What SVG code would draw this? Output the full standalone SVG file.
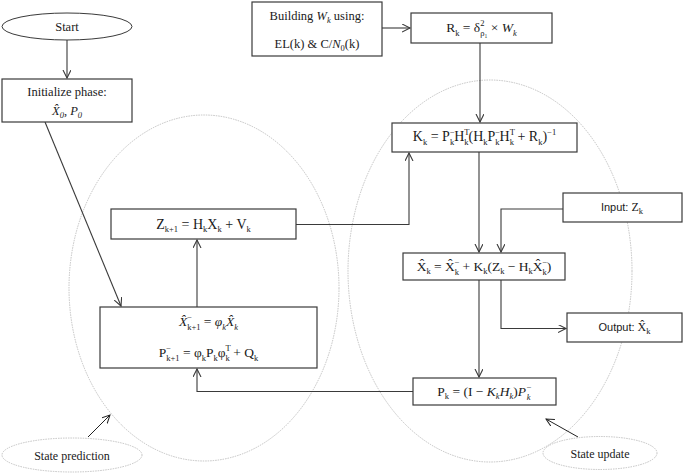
<svg xmlns="http://www.w3.org/2000/svg" width="685" height="473" viewBox="0 0 685 473">
<style>
.bg{fill:#fff}
.box{fill:#fff;stroke:#3a3a3a;stroke-width:1.2}
.big{fill:none;stroke:#b4b4b4;stroke-width:0.8;stroke-dasharray:1.5 1}
.lab{fill:#fff;stroke:#b4b4b4;stroke-width:0.8;stroke-dasharray:1.5 1}
.ln{fill:none;stroke:#3a3a3a;stroke-width:1.1}
.pt{fill:none;stroke:#222;stroke-width:1}
text{font-family:"Liberation Serif","Times New Roman",serif;font-size:13.5px;fill:#1a1a1a;text-anchor:middle}
.t13{font-size:12.5px}
.lbl{font-size:12px}
.m14{font-size:14px}
.sans{font-family:"Liberation Sans",Arial,sans-serif;font-size:11px}
.s{font-size:8.5px}
.i{font-style:italic}
</style>
<defs>
<marker id="ah" markerWidth="10" markerHeight="10" refX="8" refY="4" orient="auto" markerUnits="userSpaceOnUse">
<path d="M0,0 L8,4 L0,8" fill="none" stroke="#3a3a3a" stroke-width="1.1"/>
</marker>
<marker id="ah2" markerWidth="10" markerHeight="10" refX="8" refY="4" orient="auto" markerUnits="userSpaceOnUse">
<path d="M0,0 L8,4 L0,8" fill="none" stroke="#222" stroke-width="1"/>
</marker>
</defs>
<rect class="bg" x="0" y="0" width="685" height="473"/>

<g id="regions">
<ellipse class="big" cx="204" cy="288" rx="135" ry="173"/>
<ellipse class="big" cx="490" cy="271" rx="142" ry="191"/>
</g>

<g id="connectors">
<line class="ln" x1="67" y1="40" x2="67" y2="78" marker-end="url(#ah)"/>
<line class="ln" x1="45" y1="122" x2="121" y2="306" marker-end="url(#ah)"/>
<line class="ln" x1="382" y1="28" x2="410" y2="28" marker-end="url(#ah)"/>
<line class="ln" x1="480" y1="43" x2="480" y2="122" marker-end="url(#ah)"/>
<polyline class="ln" points="296,224.5 409,224.5 409,153" marker-end="url(#ah)"/>
<line class="ln" x1="479" y1="152" x2="479" y2="252" marker-end="url(#ah)"/>
<polyline class="ln" points="563,209 501,209 501,252" marker-end="url(#ah)"/>
<line class="ln" x1="479" y1="280" x2="479" y2="377" marker-end="url(#ah)"/>
<polyline class="ln" points="501,280 501,328.5 566,328.5" marker-end="url(#ah)"/>
<polyline class="ln" points="413,391.5 197,391.5 197,369" marker-end="url(#ah)"/>
<line class="ln" x1="197" y1="307" x2="197" y2="240" marker-end="url(#ah)"/>
<line class="pt" x1="88" y1="437" x2="110" y2="415" marker-end="url(#ah2)"/>
<line class="pt" x1="578" y1="437" x2="546" y2="419" marker-end="url(#ah2)"/>
</g>

<g id="start">
<ellipse class="box" cx="67" cy="26.5" rx="65" ry="13.5" style="stroke-width:1"/>
<text class="t13" x="67" y="31">Start</text>
</g>

<g id="init">
<rect class="box" x="2" y="79" width="130" height="43"/>
<text class="t13" x="67" y="96">Initialize phase:</text>
<text class="t13" x="67" y="115"><tspan class="i">X̂</tspan><tspan class="s i" dy="3">0</tspan><tspan dy="-3">, </tspan><tspan class="i">P</tspan><tspan class="s i" dy="3">0</tspan></text>
</g>

<g id="building">
<rect class="box" x="252" y="2" width="130" height="54"/>
<text class="t13" x="317" y="20">Building <tspan class="i">W</tspan><tspan class="s i" dy="3">k</tspan><tspan dy="-3"> using:</tspan></text>
<text class="t13" x="317" y="48">EL(k) &amp; C/<tspan class="i">N</tspan><tspan class="s" dy="3">0</tspan><tspan dy="-3">(k)</tspan></text>
</g>

<g id="rk">
<rect class="box" x="411" y="13" width="141" height="30"/>
<text x="481.5" y="32">R<tspan class="s" dy="3.5">k</tspan><tspan dy="-3.5"> = δ</tspan><tspan class="s" dy="-6">2</tspan><tspan class="s" dx="-4.3" dy="10">ρ₁</tspan><tspan dy="-4"> × </tspan><tspan class="i">W</tspan><tspan class="s i" dy="3.5">k</tspan></text>
</g>

<g id="kk">
<rect class="box" x="392" y="123" width="185" height="29"/>
<text class="m14" x="484.5" y="141">K<tspan class="s" dy="3.5">k</tspan><tspan dy="-3.5"> = P</tspan><tspan class="s" dy="-6">−</tspan><tspan class="s" dx="-4.8" dy="10">k</tspan><tspan dy="-4">H</tspan><tspan class="s" dy="-6">T</tspan><tspan class="s" dx="-5.2" dy="10">k</tspan><tspan dy="-4">(H</tspan><tspan class="s" dy="3.5">k</tspan><tspan dy="-3.5">P</tspan><tspan class="s" dy="-6">−</tspan><tspan class="s" dx="-4.8" dy="10">k</tspan><tspan dy="-4">H</tspan><tspan class="s" dy="-6">T</tspan><tspan class="s" dx="-5.2" dy="10">k</tspan><tspan dy="-4"> + R</tspan><tspan class="s" dy="3.5">k</tspan><tspan dy="-3.5">)</tspan><tspan class="s" dy="-6">−1</tspan></text>
</g>

<g id="zk1">
<rect class="box" x="111" y="209" width="185" height="30"/>
<text class="m14" x="203.5" y="228.5">Z<tspan class="s" dy="3.5">k+1</tspan><tspan dy="-3.5"> = H</tspan><tspan class="s" dy="3.5">k</tspan><tspan dy="-3.5">X</tspan><tspan class="s" dy="3.5">k</tspan><tspan dy="-3.5"> + V</tspan><tspan class="s" dy="3.5">k</tspan></text>
</g>

<g id="input">
<rect class="box" x="563" y="193" width="119" height="29"/>
<text class="sans" x="622" y="211">Input: <tspan style="font-family:'Liberation Serif',serif;font-size:12px">Z</tspan><tspan class="s" style="font-family:'Liberation Serif',serif" dy="3">k</tspan></text>
</g>

<g id="xhat">
<rect class="box" x="403" y="253" width="162" height="27"/>
<text x="484" y="270.5">X̂<tspan class="s" dy="3.5">k</tspan><tspan dy="-3.5"> = X̂</tspan><tspan class="s" dy="-6">−</tspan><tspan class="s" dx="-4.8" dy="10">k</tspan><tspan dy="-4"> +  K</tspan><tspan class="s" dy="3.5">k</tspan><tspan dy="-3.5">(Z</tspan><tspan class="s" dy="3.5">k</tspan><tspan dy="-3.5"> − H</tspan><tspan class="s" dy="3.5">k</tspan><tspan dy="-3.5">X̂</tspan><tspan class="s" dy="-6">−</tspan><tspan class="s" dx="-4.8" dy="10">k</tspan><tspan dy="-4">)</tspan></text>
</g>

<g id="output">
<rect class="box" x="567" y="313" width="115" height="29"/>
<text class="sans" x="624.5" y="331">Output: <tspan style="font-family:'Liberation Serif',serif;font-size:12px">X̂</tspan><tspan class="s" style="font-family:'Liberation Serif',serif" dy="3">k</tspan></text>
</g>

<g id="pk">
<rect class="box" x="413" y="378" width="143" height="27"/>
<text x="484.5" y="395.5">P<tspan class="s" dy="3.5">k</tspan><tspan dy="-3.5"> = (I −  </tspan><tspan class="i">K</tspan><tspan class="s i" dy="3.5">k</tspan><tspan class="i" dy="-3.5">H</tspan><tspan class="s i" dy="3.5">k</tspan><tspan dy="-3.5">)</tspan><tspan class="i">P</tspan><tspan class="s i" dy="-6">−</tspan><tspan class="s i" dx="-4.8" dy="10">k</tspan></text>
</g>

<g id="predict">
<rect class="box" x="100" y="307" width="217" height="61"/>
<text x="208.5" y="326"><tspan class="i">X̂</tspan><tspan class="s" dy="-6">−</tspan><tspan class="s" dx="-4.8" dy="10">k+1</tspan><tspan dy="-4"> = </tspan><tspan class="i">φ</tspan><tspan class="s i" dy="3.5">k</tspan><tspan class="i" dy="-3.5">X̂</tspan><tspan class="s i" dy="3.5">k</tspan></text>
<text x="208.5" y="357">P<tspan class="s" dy="-6">−</tspan><tspan class="s" dx="-4.8" dy="10">k+1</tspan><tspan dy="-4"> = φ</tspan><tspan class="s" dy="3.5">k</tspan><tspan dy="-3.5">P</tspan><tspan class="s" dy="3.5">k</tspan><tspan dy="-3.5">φ</tspan><tspan class="s" dy="-6">T</tspan><tspan class="s" dx="-5.2" dy="10">k</tspan><tspan dy="-4"> + Q</tspan><tspan class="s" dy="3.5">k</tspan></text>
</g>

<g id="label-prediction">
<ellipse class="lab" cx="72" cy="455" rx="70" ry="17"/>
<text class="lbl" x="72" y="460">State prediction</text>
</g>

<g id="label-update">
<ellipse class="lab" cx="600" cy="453" rx="57" ry="16.5"/>
<text class="lbl" x="600" y="458">State update</text>
</g>
</svg>
